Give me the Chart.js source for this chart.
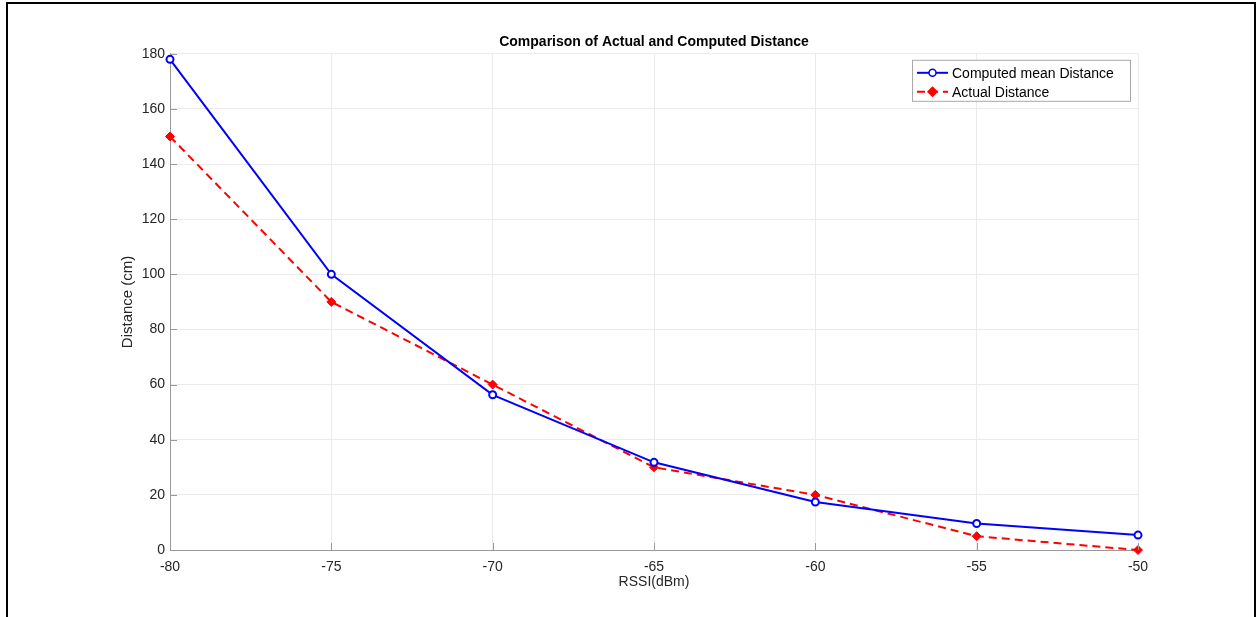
<!DOCTYPE html>
<html>
<head>
<meta charset="utf-8">
<script src="https://cdn.jsdelivr.net/npm/chart.js@4/dist/chart.umd.min.js"></script>
<style>
  html, body { margin: 0; padding: 0; background: #fff; }
  #frame { position: absolute; left: 6px; top: 2px; width: 1250px; height: 640px; border: 2px solid #000; box-sizing: border-box; }
  #wrap { position: absolute; left: 0; top: 0; width: 1257px; height: 617px; overflow: hidden; }
  canvas { position: absolute; left: 0; top: 0; }
</style>
</head>
<body>
<div id="wrap">
  <div id="frame"></div>
  <canvas id="c" width="1257" height="617"></canvas>
</div>
<script>
// RSSI values on the x axis and the two distance series (cm)
const rssi = [-80, -75, -70, -65, -60, -55, -50];
const computedDistance = [178, 100, 56.3, 31.8, 17.4, 9.6, 5.4];
const actualDistance = [150, 90, 60, 30, 20, 5, 0];
const xTicks = [-80, -75, -70, -65, -60, -55, -50];
const yTicks = [0, 20, 40, 60, 80, 100, 120, 140, 160, 180];

const seriesNames = ['Computed mean Distance', 'Actual Distance'];
const FONT = '"Liberation Sans", Arial, Helvetica, sans-serif';
const AXIS = '#9a9a9a';
const GRID = '#ebebeb';

// MATLAB style ticks point into the plot area
const insideTicks = {
    id: 'insideTicks',
    afterDatasetsDraw(chart) {
        const {ctx, chartArea, scales} = chart;
        ctx.save();
        ctx.strokeStyle = AXIS;
        ctx.lineWidth = 1;
        ctx.beginPath();
        for (const v of xTicks) {
            const x = Math.round(scales.x.getPixelForValue(v)) + 0.5;
            ctx.moveTo(x, chartArea.bottom);
            ctx.lineTo(x, chartArea.bottom - 7);
        }
        for (const v of yTicks) {
            const y = Math.round(scales.y.getPixelForValue(v)) + 0.5;
            ctx.moveTo(chartArea.left, y);
            ctx.lineTo(chartArea.left + 7, y);
        }
        ctx.stroke();
        ctx.restore();
    }
};

// legend box inside the top right corner of the axes
const boxLegend = {
    id: 'boxLegend',
    afterDraw(chart) {
        const {ctx, chartArea} = chart;
        const right = chartArea.right - 8;
        const top = chartArea.top + 6;
        const w = 218, h = 41;
        const left = right - w;
        ctx.save();
        ctx.fillStyle = '#fff';
        ctx.fillRect(left, top, w, h);
        ctx.strokeStyle = '#a8a8a8';
        ctx.lineWidth = 1;
        ctx.strokeRect(left + 0.5, top + 0.5, w, h);
        ctx.font = '14px ' + FONT;
        ctx.textBaseline = 'middle';
        chart.data.datasets.forEach((ds, i) => {
            const y = top + 13 + i * 19;
            const x0 = left + 5, x1 = left + 36, xm = (x0 + x1) / 2;
            ctx.strokeStyle = ds.borderColor;
            ctx.lineWidth = 2;
            ctx.setLineDash(ds.borderDash || []);
            ctx.beginPath();
            ctx.moveTo(x0, y);
            ctx.lineTo(x1, y);
            ctx.stroke();
            ctx.setLineDash([]);
            ctx.lineWidth = 1.5;
            ctx.beginPath();
            if (ds.pointStyle === 'rectRot') {
                ctx.moveTo(xm, y - 4.5); ctx.lineTo(xm + 4.5, y);
                ctx.lineTo(xm, y + 4.5); ctx.lineTo(xm - 4.5, y);
                ctx.closePath();
                ctx.fillStyle = ds.pointBackgroundColor;
                ctx.fill();
            } else {
                ctx.arc(xm, y, 3.5, 0, Math.PI * 2);
                ctx.fillStyle = '#fff';
                ctx.fill();
            }
            ctx.stroke();
            ctx.fillStyle = '#000';
            ctx.fillText(ds.label, x1 + 4, y + 1);
        });
        ctx.restore();
    }
};

new Chart(document.getElementById('c'), {
    type: 'line',
    data: {
        datasets: [
            {
                label: seriesNames[0],
                data: rssi.map((x, i) => ({x: x, y: computedDistance[i]})),
                borderColor: '#0000ff',
                borderWidth: 2,
                pointStyle: 'circle',
                pointRadius: 3.5,
                pointBorderWidth: 2,
                pointBackgroundColor: '#fff',
                pointBorderColor: '#0000ff',
                tension: 0
            },
            {
                label: seriesNames[1],
                data: rssi.map((x, i) => ({x: x, y: actualDistance[i]})),
                borderColor: '#ff0000',
                borderWidth: 2,
                borderDash: [8, 5],
                pointStyle: 'rectRot',
                pointRadius: 4.5,
                pointBorderWidth: 1,
                pointBackgroundColor: '#ff0000',
                pointBorderColor: '#ff0000',
                tension: 0
            }
        ]
    },
    options: {
        responsive: false,
        animation: false,
        clip: false,
        layout: { padding: { left: 100, right: 119, top: 0, bottom: 20 } },
        plugins: {
            legend: { display: false },
            tooltip: { enabled: false },
            title: {
                display: true,
                fullSize: false,
                text: 'Comparison of Actual and Computed Distance',
                color: '#000',
                font: { family: FONT, size: 14, weight: 'bold' },
                padding: { top: 34, bottom: 3 }
            }
        },
        scales: {
            x: {
                type: 'linear',
                min: -80,
                max: -50,
                afterBuildTicks: (s) => { s.ticks = xTicks.map(v => ({value: v})); },
                afterFit: (s) => { s.height = 47; },
                grid: { color: GRID, drawTicks: false },
                border: { color: AXIS, width: 1 },
                ticks: { color: '#262626', font: { family: FONT, size: 14 }, padding: 9, maxRotation: 0 },
                title: {
                    display: true,
                    text: 'RSSI(dBm)',
                    color: '#262626',
                    font: { family: FONT, size: 14 },
                    padding: { top: 0, bottom: 6 }
                }
            },
            y: {
                min: 0,
                max: 180,
                afterBuildTicks: (s) => { s.ticks = yTicks.map(v => ({value: v})); },
                afterFit: (s) => { s.width = 70; },
                grid: { color: GRID, drawTicks: false },
                border: { color: AXIS, width: 1 },
                ticks: { color: '#262626', font: { family: FONT, size: 14 }, padding: 5 },
                title: {
                    display: true,
                    text: 'Distance (cm)',
                    color: '#262626',
                    font: { family: FONT, size: 15 },
                    padding: { top: 19, bottom: 0 }
                }
            }
        }
    },
    plugins: [insideTicks, boxLegend]
});
</script>
</body>
</html>
